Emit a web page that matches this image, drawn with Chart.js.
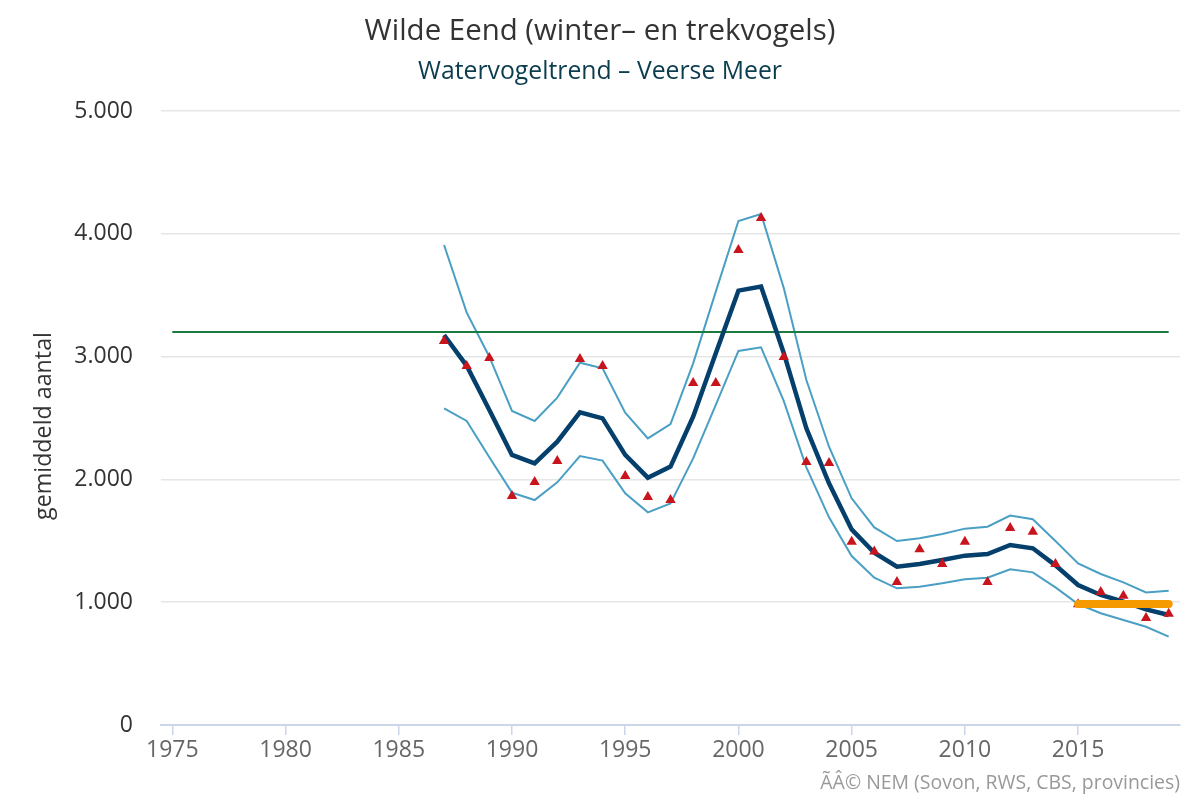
<!DOCTYPE html>
<html>
<head>
<meta charset="utf-8">
<script src="https://cdn.jsdelivr.net/npm/chart.js@4"></script>
<style>
  html,body{margin:0;padding:0;background:#fff;}
  #c{display:block;}
</style>
</head>
<body>
<canvas id="c" width="1200" height="800"></canvas>
<script>
const years = [1987,1988,1989,1990,1991,1992,1993,1994,1995,1996,1997,1998,1999,2000,2001,2002,2003,2004,2005,2006,2007,2008,2009,2010,2011,2012,2013,2014,2015,2016,2017,2018,2019];
const trend = [3176,2925,2565,2199,2131,2307,2546,2497,2199,2014,2104,2511,3028,3537,3570,3030,2416,1968,1593,1403,1289,1311,1344,1379,1392,1466,1439,1300,1140,1059,1004,942,896];
const upper = [3909,3358,2999,2557,2476,2666,2950,2904,2543,2334,2451,2945,3529,4104,4161,3560,2809,2266,1846,1609,1498,1520,1555,1599,1615,1705,1675,1498,1316,1230,1162,1080,1094];
const lower = [2579,2476,2180,1892,1832,1976,2190,2153,1887,1732,1805,2171,2606,3046,3076,2640,2098,1691,1376,1200,1113,1126,1154,1186,1200,1268,1243,1121,985,910,855,800,719];
const counted = [3127,2923,2989,1865,1979,2150,2980,2923,2028,1857,1832,2785,2785,3868,4129,2997,2142,2134,1493,1412,1164,1431,1311,1493,1164,1604,1574,1311,983,1083,1053,871,906];
const refYears = [1975, 2019];
const refValue = 3200;
const goalYears = [2015, 2019];
const goalValue = 985;
const xTicks = [1975,1980,1985,1990,1995,2000,2005,2010,2015];
const yTicks = [0,1000,2000,3000,4000,5000];

const titleText = 'Wilde Eend (winter\u2013 en trekvogels)';
const subtitleText = 'Watervogeltrend \u2013 Veerse Meer';
const yTitle = 'gemiddeld aantal';
const credits = '\u00C3\u00C2\u00A9 NEM (Sovon, RWS, CBS, provincies)';

const FONT = '"Open Sans"';
const pts = arr => years.map((y,i)=>({x:y, y:arr[i]}));

function fitFont(ctx, text, target, base){
  ctx.font = base + 'px ' + FONT;
  const w = ctx.measureText(text).width;
  const s = base * target / w;
  ctx.font = s.toFixed(2) + 'px ' + FONT;
}

const textPlugin = {
  id:'texts',
  afterDraw(chart){
    const ctx = chart.ctx;
    ctx.save();
    ctx.textAlign='center';
    ctx.textBaseline='middle';
    ctx.fillStyle='#333333';
    fitFont(ctx, titleText, 471, 26);
    ctx.fillText(titleText, 600, 32);
    ctx.fillStyle='#0b3d4f';
    fitFont(ctx, subtitleText, 364, 21);
    ctx.fillText(subtitleText, 600, 72);
    ctx.save();
    ctx.translate(44, 426);
    ctx.rotate(-Math.PI/2);
    ctx.fillStyle='#333333';
    fitFont(ctx, yTitle, 188, 21);
    ctx.fillText(yTitle, 0, 0);
    ctx.restore();
    ctx.textAlign='right';
    ctx.fillStyle='#999999';
    fitFont(ctx, credits, 360, 18);
    ctx.fillText(credits, 1180, 783);
    ctx.restore();
  }
};

new Chart(document.getElementById('c'), {
  type:'line',
  data:{
    datasets:[
      {data:pts(upper), borderColor:'#4a9fc4', borderWidth:2, pointRadius:0, tension:0, fill:false, order:5},
      {data:pts(lower), borderColor:'#4a9fc4', borderWidth:2, pointRadius:0, tension:0, fill:false, order:5},
      {data:refYears.map(y=>({x:y,y:refValue})), borderColor:'#1b7a40', borderWidth:2, pointRadius:0, fill:false, order:4},
      {data:pts(trend), borderColor:'#053f6c', borderWidth:4.5, pointRadius:0, tension:0, fill:false, order:3},
      {data:pts(counted), showLine:false, pointStyle:'triangle', pointRadius:6, pointBackgroundColor:'#c8141c', pointBorderColor:'#c8141c', pointBorderWidth:0, order:2},
      {data:goalYears.map(y=>({x:y,y:goalValue})), borderColor:'#f59a00', borderWidth:8, borderCapStyle:'round', pointRadius:0, fill:false, order:1}
    ]
  },
  options:{
    responsive:false,
    animation:false,
    devicePixelRatio:1,
    layout:{padding:{top:111,right:20,bottom:0,left:0}},
    plugins:{legend:{display:false}, tooltip:{enabled:false}, title:{display:false}},
    scales:{
      x:{
        type:'linear', min:1974.5, max:2019.5,
        afterBuildTicks(s){ s.ticks = xTicks.map(v=>({value:v})); },
        afterFit(s){ s.height = 75; },
        grid:{display:true, drawOnChartArea:false, drawTicks:true, tickLength:10, color:'#ccd6eb', lineWidth:1.5},
        border:{display:true, color:'#ccd6eb', width:2},
        ticks:{padding:2, color:'#666666', font:{family:FONT, size:23}, callback:v=>String(v), maxRotation:0, autoSkip:false}
      },
      y:{
        type:'linear', min:0, max:5000,
        afterBuildTicks(s){ s.ticks = yTicks.map(v=>({value:v})); },
        afterFit(s){ s.width = 161; },
        grid:{color:'#e6e6e6', lineWidth:1.5, drawTicks:false},
        border:{display:false},
        ticks:{padding:28, color:'#333333', font:{family:FONT, size:23},
          callback:v=>String(v).replace(/\B(?=(\d{3})+(?!\d))/g,'.')}
      }
    }
  },
  plugins:[textPlugin]
});
</script>
</body>
</html>
